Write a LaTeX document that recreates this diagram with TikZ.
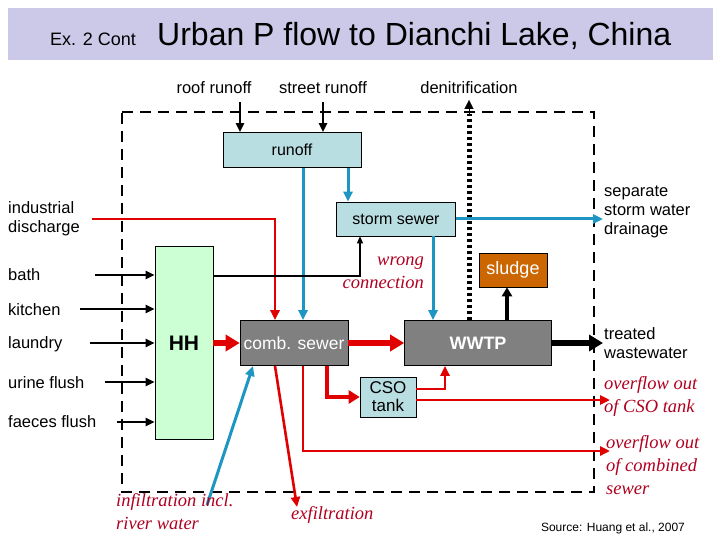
\documentclass[tikz,border=0pt]{standalone}
\usepackage{fontspec}
\setmainfont{Liberation Sans}
\newfontfamily\serifit{Liberation Serif}
\usetikzlibrary{arrows.meta}
\definecolor{ttl}{HTML}{CCC8E8}
\definecolor{cyanbox}{HTML}{B9DEE2}
\definecolor{hhg}{HTML}{CCFFD4}
\definecolor{grayb}{HTML}{808080}
\definecolor{sludgec}{HTML}{CC6600}
\definecolor{bl}{HTML}{1E96C3}
\definecolor{rd}{HTML}{E00000}
\definecolor{dr}{HTML}{B00020}
\begin{document}
\begin{tikzpicture}[x=1pt,y=-1pt,
 box/.style={draw=black,line width=0.6pt,inner sep=0pt,font=\fontsize{16}{18}\selectfont},
 lab/.style={inner sep=0pt,font=\fontsize{16.5}{19}\selectfont,align=left},
 ital/.style={inner sep=0pt,font=\serifit\itshape\fontsize{18.5}{23}\selectfont,text=dr,align=left},
 blk/.style={draw=black,line width=2.6pt,-{Triangle[length=9pt,width=8pt]}},
 blu/.style={draw=bl,line width=3pt,-{Triangle[length=10pt,width=9pt]}},
 red/.style={draw=rd,line width=2.6pt,-{Triangle[length=10pt,width=9pt]}},
 fat/.style={draw=rd,line width=6pt,-{Triangle[length=14pt,width=16pt]}},
 fatk/.style={draw=black,line width=6pt,-{Triangle[length=14pt,width=16pt]}}]
\useasboundingbox (0,0) rectangle (720,540);
\fill[ttl] (8,8) rectangle (713,60);
\node[inner sep=0pt,anchor=base west] (t1) at (50,46) {\fontsize{18}{20}\selectfont Ex. 2 Cont};
\node[inner sep=0pt,anchor=base west] (t2) at (157,46) {\fontsize{32}{36}\selectfont Urban P flow to Dianchi Lake, China};
% system boundary
\draw[line width=2.6pt,dash pattern=on 11pt off 7pt] (122,112) -- (594,112) -- (594,492) -- (122,492) -- cycle;
% boxes
\node[box,fill=cyanbox,minimum width=138pt,minimum height=35pt] (runoff) at (292,150) {runoff};
\node[box,fill=cyanbox,minimum width=119pt,minimum height=34pt] (storm) at (396,219) {storm sewer};
\node[box,fill=hhg,minimum width=58pt,minimum height=193pt,font=\bfseries\fontsize{21}{24}\selectfont] (hh) at (184,343) {HH};
\node[box,fill=grayb,text=white,minimum width=108pt,minimum height=45pt,font=\fontsize{17.5}{20}\selectfont] (comb) at (294,343) {comb. sewer};
\node[box,fill=grayb,text=white,minimum width=147pt,minimum height=45pt,font=\bfseries\fontsize{18}{20}\selectfont] (wwtp) at (478,343) {WWTP};
\node[box,fill=sludgec,text=white,minimum width=68pt,minimum height=34pt,font=\fontsize{18}{20}\selectfont] (sludge) at (513,270) {sludge};
\node[box,fill=cyanbox,minimum width=56pt,minimum height=40pt,align=center,font=\fontsize{17}{18}\selectfont] (cso) at (388,397) {CSO\\tank};
% top labels
\node[lab] (roof) at (214,88) {roof runoff};
\node[lab] (street) at (323,88) {street runoff};
\node[lab] (denit) at (469,88) {denitrification};
\coordinate (r1) at (240,102); \coordinate (s1) at (323,102);
\draw[blk] (r1) -- (r1|-runoff.north);
\draw[blk] (s1) -- (s1|-runoff.north);
\coordinate (d0) at (469,320); \coordinate (d1) at (469,100);
\draw[line width=5pt,dash pattern=on 3pt off 3pt] (d0) -- (469,114);
\draw[-{Triangle[length=9pt,width=9pt]},line width=0.1pt] (469,114) -- (d1);
% left labels
\node[lab,anchor=west] (ind) at (8,219) {industrial\\discharge};
\node[lab,anchor=west] (bath) at (8,275) {bath};
\node[lab,anchor=west] (kit) at (8,310) {kitchen};
\node[lab,anchor=west] (lau) at (8,344) {laundry};
\node[lab,anchor=west] (uri) at (8,383) {urine flush};
\node[lab,anchor=west] (fae) at (8,422) {faeces flush};
\coordinate (b0) at (95,275); \coordinate (k0) at (80,309); \coordinate (l0) at (90,343);
\coordinate (u0) at (105,382); \coordinate (f0) at (117,422);
\foreach \c in {b0,k0,l0,u0,f0} \draw[blk] (\c) -- (\c-|hh.west);
% industrial
\coordinate (i0) at (92,219); \coordinate (i1) at (275,219);
\draw[red] (i0) -- (i1) -- (i1|-comb.north);
% runoff to comb and storm
\coordinate (ro1) at (303,168); \coordinate (ro2) at (348,168);
\draw[blu] (ro1) -- (ro1|-comb.north);
\draw[blu] (ro2) -- (ro2|-storm.north);
% wrong connection
\coordinate (w1) at (360,276);
\draw[draw=black,line width=1.3pt,-{Triangle[length=7pt,width=6pt]}] (hh.east|-w1) -- (w1) -- (w1|-storm.south);
\node[ital,align=right,anchor=east] (wrong) at (424,273) {wrong\\connection};
% storm outputs
\coordinate (so) at (603,219);
\draw[blu] (storm.east) -- (so);
\coordinate (sd) at (433,236);
\draw[blu] (sd) -- (sd|-wwtp.north);
% main flow
\draw[fat] (hh.east) -- (comb.west);
\draw[fat] (comb.east) -- (wwtp.west);
\coordinate (wo) at (603,343);
\draw[fatk] (wwtp.east) -- (wo);
\coordinate (sl) at (507,321);
\draw[draw=black,line width=3.5pt,-{Triangle[length=9pt,width=10pt]}] (sl) -- (sl|-sludge.south);
% comb to CSO
\coordinate (c1) at (327,366);
\draw[draw=rd,line width=4.5pt,-{Triangle[length=11pt,width=13pt]}] (c1) -- (327,397) -- (cso.west);
\coordinate (c2) at (445,389);
\draw[red] (cso.east|-c2) -- (c2) -- (c2|-wwtp.south);
\coordinate (c3) at (610,400);
\draw[red] (cso.east|-c3) -- (c3);
\coordinate (c4) at (303,366); \coordinate (c5) at (610,451);
\draw[red] (c4) -- (c4|-c5) -- (c5);
% infiltration/exfiltration
\coordinate (ex0) at (275,366); \coordinate (ex1) at (297,507);
\draw[red] (ex0) -- (ex1);
\coordinate (in0) at (207,505); \coordinate (in1) at (253,366);
\draw[blu] (in0) -- (in1);
\node[ital,anchor=north west] (inf) at (116,493) {infiltration incl.\\river water};
\node[ital,anchor=north west] (exf) at (291,506) {exfiltration};
% right labels
\node[lab,anchor=west] (sep) at (604,212) {separate\\storm water\\drainage};
\node[lab,anchor=west] (trt) at (604,343) {treated\\wastewater};
\node[ital,anchor=west] (ocso) at (604,396) {overflow out\\of CSO tank};
\node[ital,anchor=west] (ocomb) at (606,465) {overflow out\\of combined\\sewer};
\node[inner sep=0pt,font=\fontsize{12}{14}\selectfont] (src) at (613,528) {Source: Huang et al., 2007};
\end{tikzpicture}
\end{document}
